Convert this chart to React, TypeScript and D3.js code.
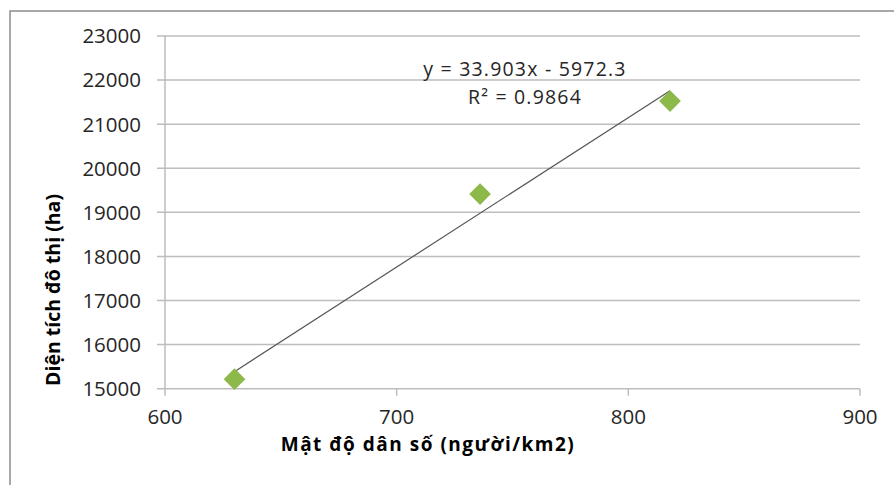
import React from "react";
import * as d3 from "d3";

const xTicks = [600, 700, 800, 900];
const yTicks = [15000, 16000, 17000, 18000, 19000, 20000, 21000, 22000, 23000];
const densities = [630, 736, 818];
const urbanAreas = [15215, 19415, 21525];
const slope = 33.903;
const intercept = -5972.3;
const equationLabel = "y = 33.903x - 5972.3";
const r2Label = "R² = 0.9864";
const xTitle = "Mật độ dân số (người/km2)";
const yTitle = "Diện tích đô thị (ha)";

const W = 894;
const H = 485;
const FONT = "'Open Sans', 'Noto Sans', sans-serif";

export default function App() {
  const x = d3.scaleLinear().domain([600, 900]).range([165, 860]);
  const y = d3.scaleLinear().domain([15000, 23000]).range([388.7, 36]);
  const x0 = d3.min(densities) as number;
  const x1 = d3.max(densities) as number;
  const line = d3.line<number>().x((d) => x(d)).y((d) => y(slope * d + intercept));
  const diamond = d3.symbol().type(d3.symbolDiamond2).size(300)();
  const gridColor = "#bdbdbd";

  return (
    <svg
      width={W}
      height={H}
      style={{ position: "absolute", left: 0, top: 0, background: "#fff" }}
      fontFamily={FONT}
    >
      <rect x={10} y={11} width={W + 10} height={H + 10} fill="#fff" stroke="#8c8c8c" strokeWidth={1.5} />
      {yTicks.map((t) => (
        <g key={"y" + t}>
          <line x1={157} x2={860} y1={y(t)} y2={y(t)} stroke={gridColor} strokeWidth={1.5} />
          <text x={141} y={y(t)} dy="0.36em" textAnchor="end" fontSize={20.5} fill="#262626">
            {t}
          </text>
        </g>
      ))}
      <line x1={x(600)} x2={x(600)} y1={y(23000)} y2={y(15000)} stroke={gridColor} strokeWidth={1.5} />
      {xTicks.map((t) => (
        <g key={"x" + t}>
          <line x1={x(t)} x2={x(t)} y1={y(15000)} y2={y(15000) + 7} stroke={gridColor} strokeWidth={1.5} />
          <text x={x(t)} y={y(15000) + 35} textAnchor="middle" fontSize={20.5} fill="#262626">
            {t}
          </text>
        </g>
      ))}
      <path d={line([x0, x1]) || ""} stroke="#555" strokeWidth={1.2} fill="none" />
      {densities.map((d, i) => (
        <path
          key={i}
          d={diamond || ""}
          transform={`translate(${x(d)},${y(urbanAreas[i])})`}
          fill="#8DB84A"
        />
      ))}
      <text x={525} y={76} textAnchor="middle" fontSize={19.5} letterSpacing={1.2} fill="#262626">
        {equationLabel}
      </text>
      <text x={525} y={104} textAnchor="middle" fontSize={19.5} letterSpacing={1.2} fill="#262626">
        {r2Label}
      </text>
      <text x={428} y={450.5} textAnchor="middle" fontSize={19} fontWeight="bold" letterSpacing={1.5} fill="#000">
        {xTitle}
      </text>
      <text
        transform="translate(60,290) rotate(-90)"
        textAnchor="middle"
        fontSize={19.5}
        fontWeight="bold"
        fill="#000"
      >
        {yTitle}
      </text>
    </svg>
  );
}
